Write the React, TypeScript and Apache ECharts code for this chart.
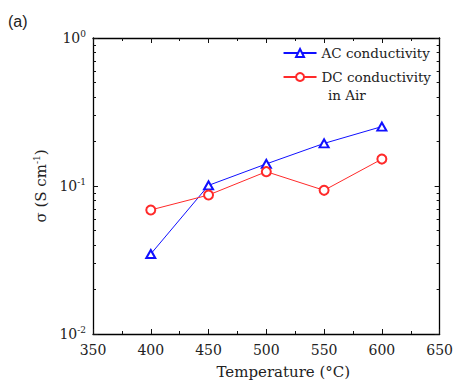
import React, { useEffect, useRef } from "react";
import * as echarts from "echarts";

const temperatures = [400, 450, 500, 550, 600];
const acConductivity = [0.0347, 0.101, 0.141, 0.194, 0.252];
const dcConductivity = [0.0689, 0.0869, 0.125, 0.0935, 0.152];
const yMajorValues = [0.01, 0.1, 1];
const yMinorValues = [0.02, 0.03, 0.04, 0.05, 0.06, 0.07, 0.08, 0.09, 0.2, 0.3, 0.4, 0.5, 0.6, 0.7, 0.8, 0.9];
const legendNames = ["AC conductivity", "DC conductivity"];
const legendExtraLine = "in Air";

const FONT = "DejaVu Serif";

export default function App() {
  const ref = useRef<HTMLDivElement>(null);
  useEffect(() => {
    if (!ref.current) return;
    const chart = echarts.init(ref.current, null, { renderer: "svg" });
    const axisLine = { show: true, lineStyle: { color: "#000", width: 1.3 } };
    const tickStyle = { color: "#111", width: 1 };
    const supRich = {
      sup: { fontFamily: FONT, fontSize: 9, color: "#222", verticalAlign: "bottom", padding: [0, 0, 8, 0] },
    };
    const xBase = {
      type: "value" as const,
      min: 350,
      max: 650,
      interval: 50,
      splitLine: { show: false },
      axisLine,
      axisTick: { show: true, inside: true, length: 5, lineStyle: tickStyle },
      minorTick: { show: true, splitNumber: 2, length: 3, lineStyle: tickStyle },
    };
    const yBase = {
      type: "log" as const,
      logBase: 10,
      min: 0.01,
      max: 1,
      splitLine: { show: false },
      minorSplitLine: { show: false },
    };
    chart.setOption({
      animation: false,
      backgroundColor: "#fff",
      title: {
        text: "(a)",
        left: 3,
        top: 8,
        textStyle: { fontFamily: "Liberation Sans", fontSize: 16, fontWeight: "normal", color: "#222" },
      },
      grid: { left: 93, right: 13, top: 38, bottom: 51 },
      legend: {
        orient: "vertical",
        right: 20,
        top: 41,
        itemWidth: 33,
        itemHeight: 10,
        itemGap: 10,
        textStyle: { fontFamily: FONT, fontSize: 13.5, color: "#222" },
        data: legendNames,
      },
      graphic: [
        {
          type: "text",
          left: 328,
          top: 88,
          style: { text: legendExtraLine, fontFamily: FONT, fontSize: 13.5, fill: "#222" },
        },
      ],
      xAxis: [
        {
          ...xBase,
          position: "bottom",
          name: "Temperature (°C)",
          nameLocation: "middle",
          nameGap: 30,
          nameTextStyle: { fontFamily: FONT, fontSize: 15, color: "#222", padding: [0, 0, 0, 34] },
          axisLabel: { show: true, fontFamily: FONT, fontSize: 14, color: "#222", margin: 9 },
        },
        {
          ...xBase,
          position: "top",
          axisLabel: { show: false },
        },
      ],
      yAxis: [
        {
          ...yBase,
          position: "left",
          name: "σ (S cm{sup|-1})",
          nameLocation: "middle",
          nameGap: 40,
          nameTextStyle: { fontFamily: FONT, fontSize: 15, color: "#222", rich: supRich },
          axisLine,
          axisTick: { show: true, inside: true, length: 5, customValues: yMajorValues, lineStyle: tickStyle },
          axisLabel: {
            show: true,
            fontFamily: FONT,
            fontSize: 14,
            color: "#222",
            margin: 7,
            customValues: yMajorValues,
            formatter: (v: number) => `10{sup|${Math.round(Math.log10(v))}}`,
            rich: { sup: { ...supRich.sup } },
          },
        },
        {
          ...yBase,
          position: "left",
          axisLine: { show: false },
          axisTick: { show: true, inside: true, length: 3, customValues: yMinorValues, lineStyle: tickStyle },
          axisLabel: { show: false },
        },
        {
          ...yBase,
          position: "right",
          axisLine,
          axisTick: { show: true, inside: true, length: 5, customValues: yMajorValues, lineStyle: tickStyle },
          axisLabel: { show: false },
        },
        {
          ...yBase,
          position: "right",
          axisLine: { show: false },
          axisTick: { show: true, inside: true, length: 3, customValues: yMinorValues, lineStyle: tickStyle },
          axisLabel: { show: false },
        },
      ],
      series: [
        {
          name: "AC conductivity",
          type: "line",
          xAxisIndex: 0,
          yAxisIndex: 0,
          data: temperatures.map((t, i) => [t, acConductivity[i]]),
          symbol: "emptyTriangle",
          symbolSize: [9, 8],
          lineStyle: { color: "#1010ff", width: 1 },
          itemStyle: { color: "#1010ff", borderWidth: 1.2 },
        },
        {
          name: "DC conductivity",
          type: "line",
          xAxisIndex: 0,
          yAxisIndex: 0,
          data: temperatures.map((t, i) => [t, dcConductivity[i]]),
          symbol: "emptyCircle",
          symbolSize: 9,
          lineStyle: { color: "#ff2a2a", width: 1 },
          itemStyle: { color: "#ff2a2a", borderWidth: 1.2 },
        },
      ],
    });
    return () => chart.dispose();
  }, []);
  return <div ref={ref} style={{ position: "absolute", left: 0, top: 0, width: 456, height: 385 }} />;
}
